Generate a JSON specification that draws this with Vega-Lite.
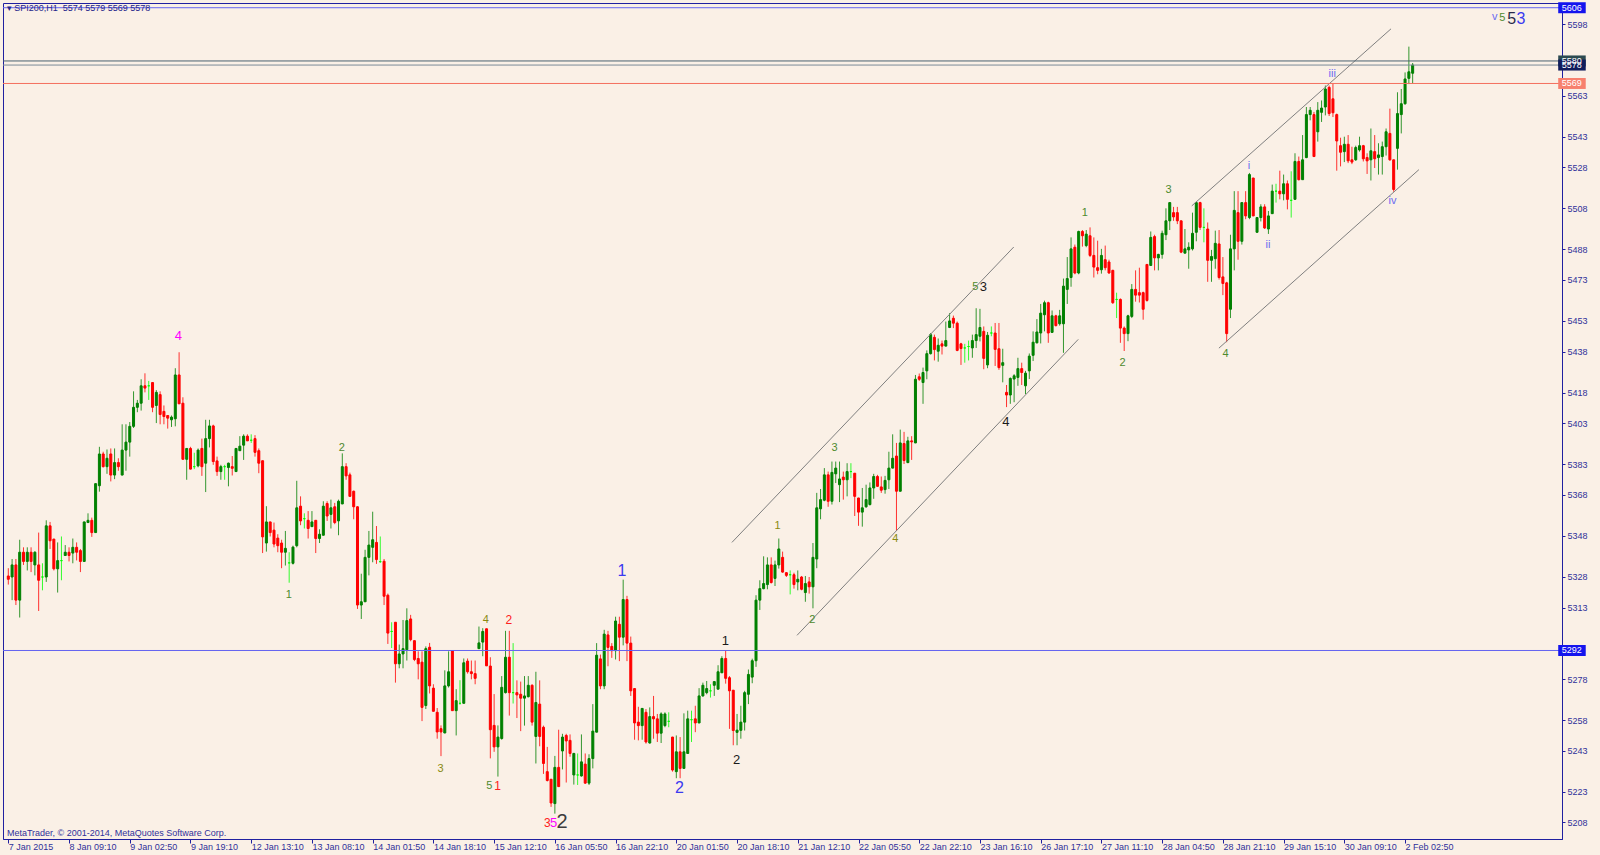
{
"$schema": "https://vega.github.io/schema/vega-lite/v6.json",
"width": 1559,
"height": 836,
"autosize": {"type": "none"},
"padding": {"left": 3, "top": 3, "right": 38, "bottom": 16},
"background": "#FAF0E6",
"config": {"font": "Liberation Sans", "view": {"stroke": "#2020A0", "strokeWidth": 1}},
"title": {"text": "▾ SPI200,H1 \u00a05574 5579 5569 5578", "anchor": "start", "frame": "group", "orient": "top", "offset": -2, "baseline": "top", "dx": 3.7, "dy": 8.5, "fontSize": 9, "fontWeight": "normal", "font": "Liberation Sans", "color": "#25258A"},
"datasets": {
"candles": [
{"i":0,"o":5328.4,"h":5332.2,"l":5324.2,"c":5326.8},
{"i":1,"o":5327.9,"h":5336.7,"l":5316.6,"c":5333.8},
{"i":2,"o":5333.8,"h":5336.7,"l":5314.2,"c":5316.6},
{"i":3,"o":5316.6,"h":5346.1,"l":5308.1,"c":5340},
{"i":4,"o":5340,"h":5342.4,"l":5333.8,"c":5335.5},
{"i":5,"o":5335.5,"h":5342.4,"l":5331.1,"c":5340},
{"i":6,"o":5340,"h":5342.4,"l":5330.3,"c":5335.5},
{"i":7,"o":5333.8,"h":5340.5,"l":5328.7,"c":5340},
{"i":8,"o":5333.8,"h":5349.6,"l":5311.3,"c":5326.3},
{"i":9,"o":5327.9,"h":5334.6,"l":5321.4,"c":5327.9},
{"i":10,"o":5327.9,"h":5355.6,"l":5325.5,"c":5352.9},
{"i":11,"o":5352.9,"h":5354.8,"l":5341.6,"c":5345.6},
{"i":12,"o":5346.4,"h":5346.6,"l":5331.1,"c":5331.9},
{"i":13,"o":5331.9,"h":5344.8,"l":5320.3,"c":5335.9},
{"i":14,"o":5335.9,"h":5347.7,"l":5326.3,"c":5335.9},
{"i":15,"o":5338.4,"h":5343.5,"l":5338.2,"c":5340},
{"i":16,"o":5340,"h":5342.4,"l":5335.5,"c":5338.4},
{"i":17,"o":5339.6,"h":5346.7,"l":5334.6,"c":5342.4},
{"i":18,"o":5342.4,"h":5344.8,"l":5336,"c":5340},
{"i":19,"o":5340.8,"h":5341.6,"l":5330.3,"c":5335.5},
{"i":20,"o":5335.5,"h":5354.9,"l":5335.4,"c":5354.8},
{"i":21,"o":5354.5,"h":5359,"l":5354.4,"c":5355.6},
{"i":22,"o":5355.6,"h":5356.9,"l":5347.5,"c":5349.6},
{"i":23,"o":5349.6,"h":5373.6,"l":5349.5,"c":5373.5},
{"i":24,"o":5372.5,"h":5391.5,"l":5369.6,"c":5388},
{"i":25,"o":5388,"h":5389.1,"l":5381.4,"c":5381.8},
{"i":26,"o":5381.8,"h":5390.2,"l":5378.3,"c":5385.9},
{"i":27,"o":5388,"h":5390.7,"l":5374.6,"c":5377.7},
{"i":28,"o":5377.7,"h":5390.7,"l":5375.7,"c":5383.8},
{"i":29,"o":5383.8,"h":5385.9,"l":5379.8,"c":5381.8},
{"i":30,"o":5377.7,"h":5402.5,"l":5377.6,"c":5389.9},
{"i":31,"o":5389.9,"h":5402.5,"l":5379.8,"c":5393.8},
{"i":32,"o":5393.8,"h":5403.6,"l":5386.7,"c":5401.5},
{"i":33,"o":5401.5,"h":5418.6,"l":5400.7,"c":5410.8},
{"i":34,"o":5410.8,"h":5414.4,"l":5408.4,"c":5412.8},
{"i":35,"o":5412.8,"h":5424.5,"l":5409.2,"c":5421.3},
{"i":36,"o":5421.3,"h":5427.4,"l":5418.1,"c":5420.2},
{"i":37,"o":5421.3,"h":5423.7,"l":5414.4,"c":5421.3},
{"i":38,"o":5422.9,"h":5423,"l":5408.4,"c":5410.8},
{"i":39,"o":5411.7,"h":5419.2,"l":5403.1,"c":5418.1},
{"i":40,"o":5417,"h":5418.6,"l":5402.5,"c":5407.3},
{"i":41,"o":5408.8,"h":5411.7,"l":5402.5,"c":5406.3},
{"i":42,"o":5406.8,"h":5406.9,"l":5400.4,"c":5405.5},
{"i":43,"o":5404.7,"h":5406.8,"l":5401.2,"c":5406},
{"i":44,"o":5405.2,"h":5429.9,"l":5401.5,"c":5426.6},
{"i":45,"o":5426.6,"h":5437.7,"l":5412.4,"c":5412.5},
{"i":46,"o":5412.8,"h":5415.7,"l":5385.3,"c":5385.4},
{"i":47,"o":5385.4,"h":5390.8,"l":5375.4,"c":5390.7},
{"i":48,"o":5390.7,"h":5391.5,"l":5380.5,"c":5380.6},
{"i":49,"o":5381.8,"h":5388.6,"l":5380.6,"c":5381.8},
{"i":50,"o":5382.2,"h":5390.7,"l":5381.5,"c":5389.9},
{"i":51,"o":5390.7,"h":5395.5,"l":5377.3,"c":5381.8},
{"i":52,"o":5383.5,"h":5404.7,"l":5369.4,"c":5395.5},
{"i":53,"o":5395.5,"h":5404.7,"l":5391.2,"c":5401.7},
{"i":54,"o":5401.7,"h":5402.3,"l":5382.7,"c":5384.3},
{"i":55,"o":5384.6,"h":5386.7,"l":5377.3,"c":5379.4},
{"i":56,"o":5379.4,"h":5382.7,"l":5375.4,"c":5381.8},
{"i":57,"o":5381.8,"h":5382.7,"l":5375.4,"c":5381.8},
{"i":58,"o":5381.4,"h":5383.8,"l":5372.2,"c":5383.5},
{"i":59,"o":5381.8,"h":5387,"l":5377.5,"c":5381},
{"i":60,"o":5379.4,"h":5390.8,"l":5379.3,"c":5390.7},
{"i":61,"o":5389.6,"h":5396.7,"l":5389.5,"c":5391.8},
{"i":62,"o":5392.3,"h":5397.6,"l":5385.1,"c":5396.7},
{"i":63,"o":5396.7,"h":5397.6,"l":5394.4,"c":5394.4},
{"i":64,"o":5394.7,"h":5397.6,"l":5393.4,"c":5394.7},
{"i":65,"o":5395.5,"h":5397.2,"l":5386.7,"c":5388.8},
{"i":66,"o":5389.6,"h":5390.7,"l":5378.6,"c":5383.5},
{"i":67,"o":5384.7,"h":5384.8,"l":5339.6,"c":5347.5},
{"i":68,"o":5344.5,"h":5362.5,"l":5340.3,"c":5354.8},
{"i":69,"o":5354.8,"h":5354.9,"l":5347.7,"c":5349.6},
{"i":70,"o":5350.8,"h":5354.5,"l":5342.4,"c":5344},
{"i":71,"o":5346.9,"h":5348.8,"l":5340,"c":5343.2},
{"i":72,"o":5344.5,"h":5346.1,"l":5332.2,"c":5340},
{"i":73,"o":5340,"h":5350.4,"l":5333.5,"c":5341.9},
{"i":74,"o":5334.8,"h":5340,"l":5325.1,"c":5334.8},
{"i":75,"o":5334.6,"h":5343.2,"l":5334,"c":5342.5},
{"i":76,"o":5343.2,"h":5374.9,"l":5342.4,"c":5361.7},
{"i":77,"o":5362.5,"h":5367.3,"l":5353.2,"c":5355.3},
{"i":78,"o":5356.4,"h":5359,"l":5351.6,"c":5356.4},
{"i":79,"o":5355.6,"h":5360.1,"l":5346.7,"c":5351.6},
{"i":80,"o":5352.5,"h":5360.1,"l":5352.4,"c":5354.8},
{"i":81,"o":5355.6,"h":5355.7,"l":5339.6,"c":5346.7},
{"i":82,"o":5346.7,"h":5351.2,"l":5344.5,"c":5348.8},
{"i":83,"o":5348.3,"h":5364.9,"l":5348.2,"c":5362.5},
{"i":84,"o":5363.8,"h":5364.9,"l":5355.3,"c":5357.7},
{"i":85,"o":5358.5,"h":5365.7,"l":5351.6,"c":5361.7},
{"i":86,"o":5362.2,"h":5364.1,"l":5353.7,"c":5354.5},
{"i":87,"o":5355.3,"h":5365.7,"l":5348.3,"c":5364.9},
{"i":88,"o":5363.6,"h":5388.3,"l":5363.5,"c":5381.8},
{"i":89,"o":5381.8,"h":5383.5,"l":5375.4,"c":5377.3},
{"i":90,"o":5377.8,"h":5378.9,"l":5367.2,"c":5367.3},
{"i":91,"o":5369.8,"h":5370.1,"l":5356.1,"c":5362.2},
{"i":92,"o":5362.2,"h":5362.5,"l":5312.3,"c":5314.2},
{"i":93,"o":5314.2,"h":5329.5,"l":5307.4,"c":5315.8},
{"i":94,"o":5315.8,"h":5341.2,"l":5315.7,"c":5337.5},
{"i":95,"o":5337.5,"h":5350.4,"l":5328.7,"c":5343.5},
{"i":96,"o":5342.4,"h":5359.8,"l":5335.1,"c":5346.1},
{"i":97,"o":5344.8,"h":5352.8,"l":5334.3,"c":5336.4},
{"i":98,"o":5335.4,"h":5347.7,"l":5334.8,"c":5335.4},
{"i":99,"o":5335.6,"h":5336.7,"l":5314.2,"c":5318.5},
{"i":100,"o":5319,"h":5319.8,"l":5295.2,"c":5300.5},
{"i":101,"o":5301.3,"h":5305.8,"l":5293.2,"c":5301.3},
{"i":102,"o":5305.8,"h":5305.9,"l":5276.3,"c":5285.5},
{"i":103,"o":5285.5,"h":5294.9,"l":5283.3,"c":5290.3},
{"i":104,"o":5290.3,"h":5306.9,"l":5283.3,"c":5292.9},
{"i":105,"o":5292.4,"h":5312.6,"l":5287.1,"c":5306.6},
{"i":106,"o":5307.4,"h":5309.4,"l":5296.5,"c":5297.3},
{"i":107,"o":5296.8,"h":5296.9,"l":5286.8,"c":5287.6},
{"i":108,"o":5288.1,"h":5291.6,"l":5277.9,"c":5285.5},
{"i":109,"o":5286.3,"h":5291.6,"l":5257.5,"c":5264.2},
{"i":110,"o":5265.1,"h":5294,"l":5263.4,"c":5292.9},
{"i":111,"o":5293.6,"h":5295.7,"l":5271,"c":5274.7},
{"i":112,"o":5273.6,"h":5275.5,"l":5262.2,"c":5262.3},
{"i":113,"o":5261.8,"h":5263.9,"l":5248.9,"c":5252.2},
{"i":114,"o":5253.8,"h":5255.4,"l":5240.4,"c":5252.2},
{"i":115,"o":5251.7,"h":5282.3,"l":5251.6,"c":5274.7},
{"i":116,"o":5274.7,"h":5291.6,"l":5273.9,"c":5281.6},
{"i":117,"o":5291.9,"h":5292,"l":5262.5,"c":5262.6},
{"i":118,"o":5262.6,"h":5273.1,"l":5250.5,"c":5267.5},
{"i":119,"o":5266.2,"h":5277.5,"l":5265.5,"c":5266.2},
{"i":120,"o":5266.2,"h":5288.1,"l":5266.1,"c":5286},
{"i":121,"o":5286.8,"h":5288.1,"l":5280.7,"c":5281.6},
{"i":122,"o":5281.6,"h":5287.1,"l":5277.9,"c":5280.7},
{"i":123,"o":5280.7,"h":5287.1,"l":5275.5,"c":5278.4},
{"i":124,"o":5292.9,"h":5303.7,"l":5292.8,"c":5295.7},
{"i":125,"o":5296.1,"h":5302.9,"l":5289.2,"c":5301.3},
{"i":126,"o":5302.6,"h":5302.7,"l":5284.4,"c":5284.5},
{"i":127,"o":5284.4,"h":5288.7,"l":5239.3,"c":5253.3},
{"i":128,"o":5255.4,"h":5270.7,"l":5242.5,"c":5244.9},
{"i":129,"o":5244.9,"h":5255.4,"l":5230.4,"c":5249.7},
{"i":130,"o":5249,"h":5279.5,"l":5248.4,"c":5274},
{"i":131,"o":5271.4,"h":5301.6,"l":5271,"c":5288.7},
{"i":132,"o":5288.7,"h":5301.6,"l":5260.2,"c":5271.4},
{"i":133,"o":5271.4,"h":5295.6,"l":5266.1,"c":5271.4},
{"i":134,"o":5271.4,"h":5277.4,"l":5259,"c":5270.3},
{"i":135,"o":5270.6,"h":5276.8,"l":5252.6,"c":5268.7},
{"i":136,"o":5268.7,"h":5279.5,"l":5255.3,"c":5269.8},
{"i":137,"o":5269.4,"h":5279.5,"l":5269.1,"c":5275},
{"i":138,"o":5275,"h":5275.5,"l":5255.3,"c":5257},
{"i":139,"o":5250,"h":5281.6,"l":5236.8,"c":5266.6},
{"i":140,"o":5265.8,"h":5277.4,"l":5245.2,"c":5250},
{"i":141,"o":5254.5,"h":5255.3,"l":5231.7,"c":5236.8},
{"i":142,"o":5232.8,"h":5244.9,"l":5228,"c":5228.5},
{"i":143,"o":5229.1,"h":5229.2,"l":5215.6,"c":5217.5},
{"i":144,"o":5217.2,"h":5240.5,"l":5212.3,"c":5234.9},
{"i":145,"o":5234.9,"h":5253.3,"l":5225.4,"c":5225.5},
{"i":146,"o":5242.9,"h":5251.3,"l":5233.9,"c":5249.7},
{"i":147,"o":5250.5,"h":5251.3,"l":5227.5,"c":5247.8},
{"i":148,"o":5248.1,"h":5251,"l":5240.1,"c":5241.7},
{"i":149,"o":5231.2,"h":5242,"l":5226.5,"c":5241.7},
{"i":150,"o":5231.2,"h":5241.7,"l":5226.3,"c":5231.2},
{"i":151,"o":5230.7,"h":5251,"l":5230.4,"c":5237.6},
{"i":152,"o":5236.5,"h":5241.7,"l":5226.8,"c":5227.2},
{"i":153,"o":5227.2,"h":5241.3,"l":5226.3,"c":5239.2},
{"i":154,"o":5239.2,"h":5265.8,"l":5234.4,"c":5252.6},
{"i":155,"o":5252.1,"h":5295.6,"l":5252,"c":5289.7},
{"i":156,"o":5287.9,"h":5290,"l":5273.1,"c":5274.7},
{"i":157,"o":5274.7,"h":5302.1,"l":5273.1,"c":5300},
{"i":158,"o":5299.6,"h":5301.6,"l":5284.3,"c":5293.5},
{"i":159,"o":5294,"h":5295.6,"l":5288.4,"c":5291.9},
{"i":160,"o":5291.9,"h":5308.5,"l":5287.6,"c":5306.4},
{"i":161,"o":5304.8,"h":5308.5,"l":5286.8,"c":5298.5},
{"i":162,"o":5298.5,"h":5326.6,"l":5294.5,"c":5316.9},
{"i":163,"o":5316.9,"h":5318.7,"l":5286.8,"c":5295.6},
{"i":164,"o":5295.6,"h":5298.8,"l":5269.8,"c":5272.3},
{"i":165,"o":5273.4,"h":5273.5,"l":5248.4,"c":5256.6},
{"i":166,"o":5257,"h":5264.5,"l":5248.1,"c":5255.3},
{"i":167,"o":5255.3,"h":5263.8,"l":5248.4,"c":5263.7},
{"i":168,"o":5261.8,"h":5263.4,"l":5246.5,"c":5247.3},
{"i":169,"o":5246.8,"h":5264.2,"l":5246.5,"c":5259.7},
{"i":170,"o":5259.7,"h":5269.8,"l":5248.9,"c":5258.6},
{"i":171,"o":5258.6,"h":5261,"l":5247.3,"c":5251.6},
{"i":172,"o":5251.6,"h":5261.8,"l":5246.8,"c":5261},
{"i":173,"o":5255.3,"h":5261.8,"l":5254.5,"c":5261},
{"i":174,"o":5257.4,"h":5261.8,"l":5254.5,"c":5257.4},
{"i":175,"o":5249.7,"h":5249.8,"l":5232.8,"c":5233.6},
{"i":176,"o":5232.8,"h":5250.5,"l":5229.6,"c":5242.5},
{"i":177,"o":5242.5,"h":5249.7,"l":5229.6,"c":5234.4},
{"i":178,"o":5234.4,"h":5261.3,"l":5234.3,"c":5242.5},
{"i":179,"o":5241.7,"h":5262.6,"l":5241.6,"c":5258.6},
{"i":180,"o":5258.2,"h":5262.6,"l":5247.3,"c":5258.2},
{"i":181,"o":5258.6,"h":5265,"l":5252.1,"c":5256.6},
{"i":182,"o":5256.6,"h":5273.6,"l":5256.5,"c":5269.8},
{"i":183,"o":5269.8,"h":5276.3,"l":5269.4,"c":5275},
{"i":184,"o":5271.4,"h":5277.1,"l":5270.6,"c":5273.4},
{"i":185,"o":5272.3,"h":5275.5,"l":5269,"c":5272.3},
{"i":186,"o":5275,"h":5276.9,"l":5269.8,"c":5276.8},
{"i":187,"o":5273.1,"h":5284.8,"l":5273,"c":5281.6},
{"i":188,"o":5281.1,"h":5289.2,"l":5281,"c":5288.1},
{"i":189,"o":5288.1,"h":5291.9,"l":5275.8,"c":5278.4},
{"i":190,"o":5278.7,"h":5279.5,"l":5253.7,"c":5272.3},
{"i":191,"o":5272.6,"h":5272.7,"l":5245.7,"c":5252.9},
{"i":192,"o":5252,"h":5261,"l":5245.7,"c":5253.1},
{"i":193,"o":5253,"h":5265,"l":5248.9,"c":5257},
{"i":194,"o":5257,"h":5272.3,"l":5252.9,"c":5271.4},
{"i":195,"o":5270.6,"h":5282.7,"l":5265.8,"c":5280.3},
{"i":196,"o":5279,"h":5288,"l":5276,"c":5287},
{"i":197,"o":5287,"h":5319,"l":5284,"c":5316.6},
{"i":198,"o":5316.6,"h":5326.3,"l":5311.8,"c":5322.2},
{"i":199,"o":5322.2,"h":5338,"l":5321.9,"c":5324.7},
{"i":200,"o":5324.2,"h":5337.5,"l":5321.9,"c":5333.8},
{"i":201,"o":5333.8,"h":5337.5,"l":5324.7,"c":5325.2},
{"i":202,"o":5327.2,"h":5335.9,"l":5323.5,"c":5333.8},
{"i":203,"o":5333.8,"h":5346.7,"l":5332,"c":5341.6},
{"i":204,"o":5337.5,"h":5340.3,"l":5330,"c":5330.3},
{"i":205,"o":5330,"h":5330.3,"l":5327.9,"c":5328.7},
{"i":206,"o":5329,"h":5331.1,"l":5319.4,"c":5329},
{"i":207,"o":5329,"h":5330,"l":5322.2,"c":5324.2},
{"i":208,"o":5325.5,"h":5331.1,"l":5321.4,"c":5326.8},
{"i":209,"o":5327.9,"h":5328.4,"l":5321.4,"c":5321.9},
{"i":210,"o":5320.3,"h":5328.4,"l":5315.8,"c":5324.7},
{"i":211,"o":5325.5,"h":5327.9,"l":5319.8,"c":5323.1},
{"i":212,"o":5323.1,"h":5344.5,"l":5312.6,"c":5337.5},
{"i":213,"o":5336.7,"h":5369,"l":5332.2,"c":5361.7},
{"i":214,"o":5361.2,"h":5370.9,"l":5356.1,"c":5365.7},
{"i":215,"o":5365.4,"h":5381.1,"l":5364.9,"c":5377.8},
{"i":216,"o":5377.8,"h":5379.4,"l":5362.2,"c":5364.9},
{"i":217,"o":5364.9,"h":5384.3,"l":5363.3,"c":5379},
{"i":218,"o":5378.3,"h":5384.3,"l":5373.8,"c":5381.1},
{"i":219,"o":5373,"h":5384.3,"l":5364.5,"c":5375.8},
{"i":220,"o":5376.7,"h":5379.4,"l":5365.7,"c":5375.4},
{"i":221,"o":5375.4,"h":5383.5,"l":5367.3,"c":5379.4},
{"i":222,"o":5379.4,"h":5383.5,"l":5376.2,"c":5379.4},
{"i":223,"o":5378.6,"h":5378.7,"l":5357.7,"c":5367.3},
{"i":224,"o":5366.5,"h":5366.6,"l":5352.9,"c":5359.6},
{"i":225,"o":5359.6,"h":5371.4,"l":5352.5,"c":5361.7},
{"i":226,"o":5362.2,"h":5373,"l":5361.7,"c":5365.7},
{"i":227,"o":5363.3,"h":5374.1,"l":5362.8,"c":5371.4},
{"i":228,"o":5371.4,"h":5378.3,"l":5366.1,"c":5377},
{"i":229,"o":5377,"h":5377.8,"l":5371.9,"c":5372.2},
{"i":230,"o":5371.9,"h":5377,"l":5369,"c":5370.3},
{"i":231,"o":5370.6,"h":5377.3,"l":5368.6,"c":5375.1},
{"i":232,"o":5375.4,"h":5389.1,"l":5370.9,"c":5381.1},
{"i":233,"o":5381.1,"h":5397.6,"l":5381,"c":5385.9},
{"i":234,"o":5387,"h":5393.4,"l":5350.4,"c":5369.8},
{"i":235,"o":5369.8,"h":5399.9,"l":5369.7,"c":5393.4},
{"i":236,"o":5393.1,"h":5398.8,"l":5383.1,"c":5384.8},
{"i":237,"o":5383.8,"h":5396.4,"l":5383.5,"c":5394.4},
{"i":238,"o":5394.4,"h":5396.7,"l":5385.1,"c":5393.9},
{"i":239,"o":5393.4,"h":5426.6,"l":5393.3,"c":5424.5},
{"i":240,"o":5425.7,"h":5427.3,"l":5423.7,"c":5424.5},
{"i":241,"o":5422.9,"h":5430.2,"l":5412.5,"c":5427.8},
{"i":242,"o":5428.6,"h":5438.6,"l":5424.5,"c":5437},
{"i":243,"o":5437,"h":5447.1,"l":5436.6,"c":5446.3},
{"i":244,"o":5445,"h":5446.3,"l":5433.7,"c":5439},
{"i":245,"o":5438.2,"h":5444.4,"l":5433.1,"c":5441.1},
{"i":246,"o":5441.8,"h":5443.4,"l":5436.6,"c":5440.7},
{"i":247,"o":5440.7,"h":5452.7,"l":5440.6,"c":5443.4},
{"i":248,"o":5449.8,"h":5456.8,"l":5449.5,"c":5453},
{"i":249,"o":5454.3,"h":5455.6,"l":5449.5,"c":5451.9},
{"i":250,"o":5451.9,"h":5452.7,"l":5438.2,"c":5438.6},
{"i":251,"o":5441.8,"h":5442.3,"l":5431.5,"c":5439.5},
{"i":252,"o":5439.8,"h":5441.8,"l":5432.6,"c":5439.8},
{"i":253,"o":5440.5,"h":5443.4,"l":5433.7,"c":5440.5},
{"i":254,"o":5439.8,"h":5446.3,"l":5435,"c":5443.4},
{"i":255,"o":5443.4,"h":5459.2,"l":5439.8,"c":5446.3},
{"i":256,"o":5445.5,"h":5458.9,"l":5443,"c":5449.8},
{"i":257,"o":5447.9,"h":5450.3,"l":5429.4,"c":5434.7},
{"i":258,"o":5431.5,"h":5447.6,"l":5429.9,"c":5446},
{"i":259,"o":5447.1,"h":5450.3,"l":5445.5,"c":5447.1},
{"i":260,"o":5447.1,"h":5452,"l":5431,"c":5439.1},
{"i":261,"o":5439.4,"h":5452,"l":5429.1,"c":5430.2},
{"i":262,"o":5431.3,"h":5439.4,"l":5423,"c":5432.6},
{"i":263,"o":5418.1,"h":5421.7,"l":5410.9,"c":5416.8},
{"i":264,"o":5416.8,"h":5425.4,"l":5412.5,"c":5424.9},
{"i":265,"o":5424.6,"h":5427,"l":5413.3,"c":5426.2},
{"i":266,"o":5425.4,"h":5435,"l":5421.3,"c":5429.7},
{"i":267,"o":5429.7,"h":5432.6,"l":5421.7,"c":5427.8},
{"i":268,"o":5421.3,"h":5428.6,"l":5417.3,"c":5427.5},
{"i":269,"o":5428.6,"h":5437.1,"l":5424.6,"c":5435.8},
{"i":270,"o":5436.2,"h":5447.9,"l":5433.4,"c":5442.6},
{"i":271,"o":5442.3,"h":5453.9,"l":5442,"c":5447.6},
{"i":272,"o":5447.1,"h":5461.3,"l":5442,"c":5456.8},
{"i":273,"o":5456,"h":5462.9,"l":5447.9,"c":5461.9},
{"i":274,"o":5461.9,"h":5462.4,"l":5442.3,"c":5447.1},
{"i":275,"o":5447.4,"h":5458.1,"l":5447.1,"c":5455.5},
{"i":276,"o":5455.5,"h":5456,"l":5450.3,"c":5450.7},
{"i":277,"o":5451.6,"h":5458.4,"l":5450.7,"c":5455.5},
{"i":278,"o":5451.6,"h":5473.7,"l":5437.4,"c":5470},
{"i":279,"o":5468.4,"h":5484.2,"l":5461.3,"c":5473.7},
{"i":280,"o":5474.2,"h":5493.8,"l":5469.7,"c":5488.2},
{"i":281,"o":5489,"h":5490.3,"l":5475.8,"c":5476.4},
{"i":282,"o":5476.4,"h":5497.1,"l":5475.8,"c":5496.7},
{"i":283,"o":5496.7,"h":5497.4,"l":5489.3,"c":5494.6},
{"i":284,"o":5489.8,"h":5497.4,"l":5489,"c":5495.4},
{"i":285,"o":5494.6,"h":5498.7,"l":5484.2,"c":5485},
{"i":286,"o":5485,"h":5493.8,"l":5474.2,"c":5479.3},
{"i":287,"o":5479,"h":5492.2,"l":5475.8,"c":5477.7},
{"i":288,"o":5478,"h":5488.2,"l":5476.1,"c":5485},
{"i":289,"o":5482.9,"h":5489.8,"l":5477.7,"c":5479},
{"i":290,"o":5481.8,"h":5482.9,"l":5476.1,"c":5476.4},
{"i":291,"o":5477.7,"h":5478,"l":5461.3,"c":5461.9},
{"i":292,"o":5463.5,"h":5466.8,"l":5454.4,"c":5463.5},
{"i":293,"o":5463.5,"h":5464,"l":5442.3,"c":5449.5},
{"i":294,"o":5449.5,"h":5450.3,"l":5438.3,"c":5446.8},
{"i":295,"o":5446.8,"h":5456,"l":5443.1,"c":5455.5},
{"i":296,"o":5455.2,"h":5471,"l":5454.4,"c":5468.4},
{"i":297,"o":5468.4,"h":5477.7,"l":5462.4,"c":5465.6},
{"i":298,"o":5466.8,"h":5479,"l":5462,"c":5465.6},
{"i":299,"o":5466.8,"h":5467.3,"l":5453.6,"c":5458.7},
{"i":300,"o":5480.6,"h":5480.7,"l":5462.4,"c":5463},
{"i":301,"o":5480.1,"h":5496.7,"l":5480,"c":5493.8},
{"i":302,"o":5494.2,"h":5495.1,"l":5477.7,"c":5483.8},
{"i":303,"o":5483.8,"h":5485.8,"l":5477.7,"c":5485.5},
{"i":304,"o":5485.5,"h":5497.1,"l":5483.4,"c":5495.8},
{"i":305,"o":5495.1,"h":5508,"l":5492.5,"c":5501.9},
{"i":306,"o":5501.9,"h":5510.9,"l":5497.4,"c":5510.8},
{"i":307,"o":5505.9,"h":5508.7,"l":5501.9,"c":5503.8},
{"i":308,"o":5505.9,"h":5508.7,"l":5500.3,"c":5501.9},
{"i":309,"o":5501.9,"h":5502,"l":5486.1,"c":5486.6},
{"i":310,"o":5486.1,"h":5497.9,"l":5486,"c":5488.2},
{"i":311,"o":5487.7,"h":5491.4,"l":5478.5,"c":5489},
{"i":312,"o":5488.2,"h":5505.9,"l":5487.4,"c":5495.8},
{"i":313,"o":5496.3,"h":5511.2,"l":5491.9,"c":5510.8},
{"i":314,"o":5510.8,"h":5511.2,"l":5497.4,"c":5498.7},
{"i":315,"o":5498.7,"h":5508,"l":5491.4,"c":5498.7},
{"i":316,"o":5497.9,"h":5501.1,"l":5472.1,"c":5482.6},
{"i":317,"o":5482.6,"h":5487.7,"l":5472.1,"c":5484.5},
{"i":318,"o":5483.4,"h":5497.1,"l":5478.5,"c":5490.9},
{"i":319,"o":5490.6,"h":5497.4,"l":5473.2,"c":5474.2},
{"i":320,"o":5474.5,"h":5484.2,"l":5465.6,"c":5471.3},
{"i":321,"o":5471.6,"h":5472.1,"l":5442.6,"c":5446.8},
{"i":322,"o":5458.7,"h":5495.1,"l":5454.4,"c":5488.2},
{"i":323,"o":5488.2,"h":5516.4,"l":5477.7,"c":5507},
{"i":324,"o":5505.9,"h":5516.4,"l":5482.9,"c":5491.9},
{"i":325,"o":5491.9,"h":5510.9,"l":5490.3,"c":5510.8},
{"i":326,"o":5510.8,"h":5516.4,"l":5502.7,"c":5504.3},
{"i":327,"o":5503.5,"h":5525.3,"l":5502.7,"c":5524.5},
{"i":328,"o":5522.8,"h":5522.9,"l":5504.2,"c":5504.3},
{"i":329,"o":5496.3,"h":5503.6,"l":5496.2,"c":5503.5},
{"i":330,"o":5503.5,"h":5510,"l":5501.6,"c":5508.7},
{"i":331,"o":5508.7,"h":5510,"l":5497.9,"c":5498.4},
{"i":332,"o":5497.9,"h":5506.7,"l":5495.5,"c":5504.3},
{"i":333,"o":5505.4,"h":5519.6,"l":5505.3,"c":5516.4},
{"i":334,"o":5516.4,"h":5520,"l":5510.8,"c":5516.4},
{"i":335,"o":5516.4,"h":5526.4,"l":5512.4,"c":5515.1},
{"i":336,"o":5515.1,"h":5524.5,"l":5511.9,"c":5520},
{"i":337,"o":5520,"h":5521.6,"l":5507.5,"c":5512.4},
{"i":338,"o":5511.9,"h":5526.1,"l":5503.5,"c":5511.9},
{"i":339,"o":5512.4,"h":5534.9,"l":5512.3,"c":5530.9},
{"i":340,"o":5530.9,"h":5533.3,"l":5521.6,"c":5522},
{"i":341,"o":5522,"h":5543.8,"l":5521.9,"c":5531.7},
{"i":342,"o":5532.8,"h":5557.5,"l":5532.5,"c":5553.8},
{"i":343,"o":5553.8,"h":5557.5,"l":5551,"c":5555.9},
{"i":344,"o":5553.8,"h":5555.1,"l":5533.2,"c":5533.3},
{"i":345,"o":5545.4,"h":5559.9,"l":5540.6,"c":5555.9},
{"i":346,"o":5554.9,"h":5560.7,"l":5550.2,"c":5557},
{"i":347,"o":5557.5,"h":5568,"l":5553.4,"c":5566.3},
{"i":348,"o":5567.1,"h":5568,"l":5553.1,"c":5554.3},
{"i":349,"o":5561.5,"h":5568.8,"l":5552.6,"c":5554.7},
{"i":350,"o":5553.8,"h":5554.3,"l":5526.4,"c":5540.9},
{"i":351,"o":5538.6,"h":5542.5,"l":5528.5,"c":5535.4},
{"i":352,"o":5535.7,"h":5543,"l":5530.6,"c":5539.3},
{"i":353,"o":5539.3,"h":5543.8,"l":5530.1,"c":5531.2},
{"i":354,"o":5531.7,"h":5538.1,"l":5529.6,"c":5530.6},
{"i":355,"o":5531.7,"h":5538.6,"l":5531.2,"c":5537.7},
{"i":356,"o":5536.5,"h":5543,"l":5535.7,"c":5538.6},
{"i":357,"o":5538.6,"h":5539,"l":5530.9,"c":5532.2},
{"i":358,"o":5532.8,"h":5534.9,"l":5524.8,"c":5531.2},
{"i":359,"o":5531.7,"h":5547,"l":5521.6,"c":5536.1},
{"i":360,"o":5535.7,"h":5543.8,"l":5527.7,"c":5532.2},
{"i":361,"o":5532.8,"h":5539.8,"l":5524.5,"c":5534.1},
{"i":362,"o":5533.3,"h":5540.6,"l":5524.5,"c":5538.1},
{"i":363,"o":5538.1,"h":5547,"l":5533.8,"c":5545.4},
{"i":364,"o":5544.6,"h":5556.7,"l":5531.2,"c":5531.7},
{"i":365,"o":5531.7,"h":5531.8,"l":5516.1,"c":5517.2},
{"i":366,"o":5537.3,"h":5564.7,"l":5526.9,"c":5554.3},
{"i":367,"o":5553.8,"h":5566.3,"l":5544.6,"c":5559.1},
{"i":368,"o":5559.1,"h":5574.4,"l":5558.6,"c":5571.2},
{"i":369,"o":5571.5,"h":5587,"l":5568.7,"c":5574.7},
{"i":370,"o":5574,"h":5579,"l":5569,"c":5578}
],
"trends": [
{"i1":190.65,"p1":5344.8,"i2":264.9,"p2":5489.1},
{"i1":207.8,"p1":5299.4,"i2":281.9,"p2":5444},
{"i1":311.8,"p1":5509.2,"i2":364.3,"p2":5595.7},
{"i1":318.95,"p1":5439.7,"i2":371.65,"p2":5526.9}
],
"levels": [
{"p":5606,"t":"5606","k":"alert"},
{"p":5292,"t":"5292","k":"alert"},
{"p":5580,"t":"5580","k":"ask"},
{"p":5578,"t":"5578","k":"bid"},
{"p":5569,"t":"5569","k":"low"}
],
"waves": [
{"i":44.8,"p":5445.6,"t":"4","d":"Cycle"},
{"i":87.9,"p":5390.9,"t":"2","d":"Minute"},
{"i":73.9,"p":5319.3,"t":"1","d":"Minute"},
{"i":125.8,"p":5306.8,"t":"4","d":"Minuette"},
{"i":131.9,"p":5307,"t":"2","d":"Red"},
{"i":113.9,"p":5234.1,"t":"3","d":"Minuette"},
{"i":126.75,"p":5225.7,"t":"5","d":"Minute"},
{"i":128.9,"p":5225.7,"t":"1","d":"Red"},
{"i":142,"p":5207.6,"t":"3","d":"Red"},
{"i":143.7,"p":5207.6,"t":"5","d":"Cycle"},
{"i":145.9,"p":5208,"t":"2","d":"Primary"},
{"i":161.7,"p":5330.6,"t":"1","d":"Intermediate"},
{"i":176.8,"p":5224.9,"t":"2","d":"Intermediate"},
{"i":188.9,"p":5296.5,"t":"1","d":"Minor"},
{"i":191.9,"p":5238.6,"t":"2","d":"Minor"},
{"i":202.7,"p":5352.8,"t":"1","d":"Minuette"},
{"i":211.8,"p":5306.8,"t":"2","d":"Minute"},
{"i":217.7,"p":5390.9,"t":"3","d":"Minute"},
{"i":233.7,"p":5346.3,"t":"4","d":"Minuette"},
{"i":254.8,"p":5469.4,"t":"5","d":"Minute"},
{"i":256.9,"p":5469.4,"t":"3","d":"Minor"},
{"i":262.8,"p":5403.4,"t":"4","d":"Minor"},
{"i":283.6,"p":5505.5,"t":"1","d":"Minute"},
{"i":293.6,"p":5432.4,"t":"2","d":"Minute"},
{"i":305.7,"p":5517.2,"t":"3","d":"Minute"},
{"i":320.7,"p":5436.8,"t":"4","d":"Minute"},
{"i":326.9,"p":5528.8,"t":"i","d":"Sub"},
{"i":331.9,"p":5489.9,"t":"ii","d":"Sub"},
{"i":348.8,"p":5573.5,"t":"iii","d":"Sub"},
{"i":364.7,"p":5511.6,"t":"iv","d":"Sub"},
{"i":391.6,"p":5601.4,"t":"v","d":"Sub"},
{"i":393.6,"p":5600.9,"t":"5","d":"Minute"},
{"i":396.1,"p":5600.6,"t":"5","d":"Top"},
{"i":398.5,"p":5600.6,"t":"3","d":"Intermediate"}
]
},
"layer": [
{
"data": {"name": "candles"},
"mark": {"type": "rule", "strokeWidth": 1, "opacity": 0.8},
"encoding": {
"x": {"field": "i", "type": "quantitative", "scale": {"domain": [-0.08, 408.03], "nice": false, "zero": false},
"axis": {"orient": "bottom", "values": [0,16,32,48,64,80,96,112,128,144,160,176,192,208,224,240,256,272,288,304,320,336,352,368],
"labelExpr": "['7 Jan 2015','8 Jan 09:10','9 Jan 02:50','9 Jan 19:10','12 Jan 13:10','13 Jan 08:10','14 Jan 01:50','14 Jan 18:10','15 Jan 12:10','16 Jan 05:50','16 Jan 22:10','20 Jan 01:50','20 Jan 18:10','21 Jan 12:10','22 Jan 05:50','22 Jan 22:10','23 Jan 16:10','26 Jan 17:10','27 Jan 11:10','28 Jan 04:50','28 Jan 21:10','29 Jan 15:10','30 Jan 09:10','2 Feb 02:50'][round(datum.value/16)]",
"labelAlign": "left", "labelBaseline": "top", "labelPadding": -1, "tickSize": 4, "tickColor": "#2020A0", "domainColor": "#2020A0", "labelColor": "#30309A", "labelFont": "Liberation Sans", "labelFontSize": 9, "grid": false, "labelOverlap": false, "labelFlush": false,
"title": "MetaTrader, © 2001-2014, MetaQuotes Software Corp.", "titleX": 3.4, "titleY": -2, "titleAlign": "left", "titleBaseline": "bottom", "titleFont": "Liberation Sans", "titleFontSize": 9, "titleFontWeight": "normal", "titleColor": "#30309A"}},
"y": {"field": "l", "type": "quantitative", "scale": {"domain": [5202.35, 5605.87], "nice": false, "zero": false},
"axis": {"orient": "right", "values": [5208,5223,5243,5258,5278,5313,5328,5348,5368,5383,5403,5418,5438,5453,5473,5488,5508,5528,5543,5563,5598], "format": "d",
"tickSize": 3, "labelPadding": 2, "labelFont": "Liberation Sans", "labelFontSize": 9, "labelColor": "#30309A", "tickColor": "#2020A0", "domainColor": "#2020A0", "grid": false, "title": null, "labelOverlap": false, "labelFlush": false}},
"y2": {"field": "h"},
"color": {"condition": [{"test": "datum.c > datum.o", "value": "#008000"}, {"test": "datum.c < datum.o", "value": "#FF0000"}], "value": "#00FF00"}
}
},
{
"data": {"name": "candles"},
"mark": {"type": "bar", "size": 2, "strokeWidth": 1},
"encoding": {
"x": {"field": "i", "type": "quantitative"},
"y": {"field": "o", "type": "quantitative"},
"y2": {"field": "c"},
"fill": {"condition": [{"test": "datum.c > datum.o", "value": "#008000"}, {"test": "datum.c < datum.o", "value": "#FF0000"}], "value": "#00FF00"},
"stroke": {"condition": [{"test": "datum.c > datum.o", "value": "#008000"}, {"test": "datum.c < datum.o", "value": "#FF0000"}], "value": "#00FF00"}
}
},
{
"data": {"name": "trends"},
"mark": {"type": "rule", "strokeWidth": 1, "color": "#7F7F7F"},
"encoding": {
"x": {"field": "i1", "type": "quantitative"},
"x2": {"field": "i2"},
"y": {"field": "p1", "type": "quantitative"},
"y2": {"field": "p2"}
}
},
{
"data": {"name": "levels"},
"mark": {"type": "rule", "strokeWidth": 1},
"encoding": {
"y": {"field": "p", "type": "quantitative"},
"stroke": {"field": "k", "type": "nominal", "scale": {"domain": ["alert","ask","bid","low"], "range": ["#6464F0","#4A6270","#7A8A98","#F4705E"]}, "legend": null}
}
},
{
"data": {"name": "levels"},
"mark": {"type": "bar", "orient": "horizontal", "size": 11},
"encoding": {
"x": {"datum": 408.35, "type": "quantitative"},
"x2": {"datum": 415.6},
"y": {"field": "p", "type": "quantitative"},
"fill": {"field": "k", "type": "nominal", "scale": {"domain": ["alert","ask","bid","low"], "range": ["#1414EE","#2C4A50","#101C5C","#F7806E"]}, "legend": null}
}
},
{
"data": {"name": "levels"},
"mark": {"type": "text", "align": "left", "baseline": "middle", "fontSize": 9, "font": "Liberation Sans", "color": "#FFFFFF"},
"encoding": {
"x": {"datum": 409.3, "type": "quantitative"},
"y": {"field": "p", "type": "quantitative"},
"text": {"field": "t"}
}
},
{
"data": {"name": "waves"},
"mark": {"type": "text", "align": "center", "baseline": "middle", "font": "Liberation Sans"},
"encoding": {
"x": {"field": "i", "type": "quantitative"},
"y": {"field": "p", "type": "quantitative"},
"text": {"field": "t"},
"color": {"field": "d", "type": "nominal", "scale": {"domain": ["Cycle","Primary","Intermediate","Minor","Minute","Minuette","Red","Sub","Top"], "range": ["#FF00FF","#3C3C3C","#3A3AF0","#1A1A1A","#4E8A2E","#8A8A10","#FF2020","#6A6AF0","#2A2A4A"]}, "legend": null},
"size": {"condition": [{"test": "datum.d === 'Primary'", "value": 20}, {"test": "datum.d === 'Intermediate' || datum.d === 'Top'", "value": 16}, {"test": "datum.d === 'Cycle' || datum.d === 'Minor'", "value": 13}, {"test": "datum.d === 'Red'", "value": 12}], "value": 11}
}
}
]
}
